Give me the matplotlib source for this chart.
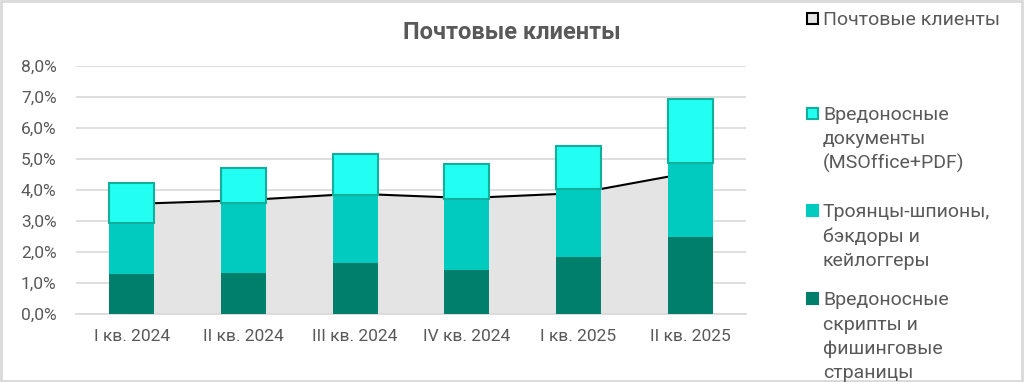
import matplotlib
matplotlib.use("Agg")
import matplotlib.pyplot as plt
from matplotlib.patches import Rectangle
import numpy as np

plt.rcParams['font.family'] = ['Roboto', 'DejaVu Sans']

categories = ["I кв. 2024", "II кв. 2024", "III кв. 2024", "IV кв. 2024", "I кв. 2025", "II кв. 2025"]
scripts_phishing = [1.28, 1.31, 1.66, 1.43, 1.84, 2.49]
trojans = [1.67, 2.28, 2.18, 2.28, 2.19, 2.39]
documents = [1.27, 1.12, 1.32, 1.12, 1.39, 2.05]
mail_clients = [3.55, 3.67, 3.88, 3.74, 3.90, 4.56]

series_names = ["Почтовые клиенты",
                "Вредоносные\nдокументы\n(MSOffice+PDF)",
                "Троянцы-шпионы,\nбэкдоры и\nкейлоггеры",
                "Вредоносные\nскрипты и\nфишинговые\nстраницы"]
title = "Почтовые клиенты"
yticks = [0, 1, 2, 3, 4, 5, 6, 7, 8]

TXT = "#595959"
C_DARK = "#00806C"
C_MID = "#00CBBE"
C_TOP = "#22FFF2"
C_TOP_EDGE = "#12B09C"
C_AREA = "#E4E4E4"
GRID = "#D9D9D9"

W, H = 1024, 382
fig = plt.figure(figsize=(W / 100, H / 100), dpi=100)
fig.patch.set_facecolor("white")
fig.patches.append(Rectangle((0.001, 0.002), 0.997, 0.995, transform=fig.transFigure,
                             fill=False, edgecolor="#D9D9D9", linewidth=2))

ax = fig.add_axes([76 / W, (H - 314) / H, (746 - 76) / W, (314 - 66) / H])
x = np.arange(len(categories))

ax.fill_between(x, 0, mail_clients, color=C_AREA, zorder=1, linewidth=0)
ax.plot(x, mail_clients, color="black", linewidth=1.5, zorder=2)

bw = 0.40
b1 = np.array(scripts_phishing)
b2 = b1 + np.array(trojans)
ax.bar(x, scripts_phishing, bw, color=C_DARK, zorder=3, linewidth=0)
ax.bar(x, trojans, bw, bottom=b1, color=C_MID, zorder=3, linewidth=0)
ax.bar(x, documents, bw, bottom=b2, color=C_TOP, edgecolor=C_TOP_EDGE, linewidth=1.5, zorder=4)

ax.set_xlim(-0.5, len(categories) - 0.5)
ax.set_ylim(0, 8)
ax.set_yticks(yticks)
ax.set_yticklabels([f"{v:.1f}%".replace(".", ",") for v in yticks])
ax.set_xticks(x)
ax.set_xticklabels(categories)
ax.yaxis.grid(True, color=GRID, linewidth=1.2, zorder=0)
ax.set_axisbelow(True)
for s in ["top", "right", "left"]:
    ax.spines[s].set_visible(False)
ax.spines["bottom"].set_color(GRID)
ax.spines["bottom"].set_linewidth(1.2)
ax.tick_params(axis="both", length=0, colors=TXT, labelsize=12.5)
ax.tick_params(axis="y", pad=14)
ax.tick_params(axis="x", pad=11)

fig.text(512 / W, 1 - 39 / H, title, ha="center", va="baseline", fontsize=17,
         fontweight="bold", color=TXT)

# legend
legend_items = [
    (18, C_AREA, "black"),
    (113, C_TOP, C_TOP_EDGE),
    (210, C_MID, C_MID),
    (298, C_DARK, C_DARK),
]
LS = 24.5
for (yc, fc, ec), name in zip(legend_items, series_names):
    fig.patches.append(Rectangle((807 / W, 1 - (yc + 5.5) / H), 11 / W, 11 / H,
                                 transform=fig.transFigure, facecolor=fc,
                                 edgecolor=ec, linewidth=1.5))
    for i, line in enumerate(name.split("\n")):
        fig.text(823 / W, 1 - (yc + 7 + i * LS) / H, line, ha="left", va="baseline",
                 fontsize=14, color=TXT)

fig.savefig("out.png", dpi=100)
